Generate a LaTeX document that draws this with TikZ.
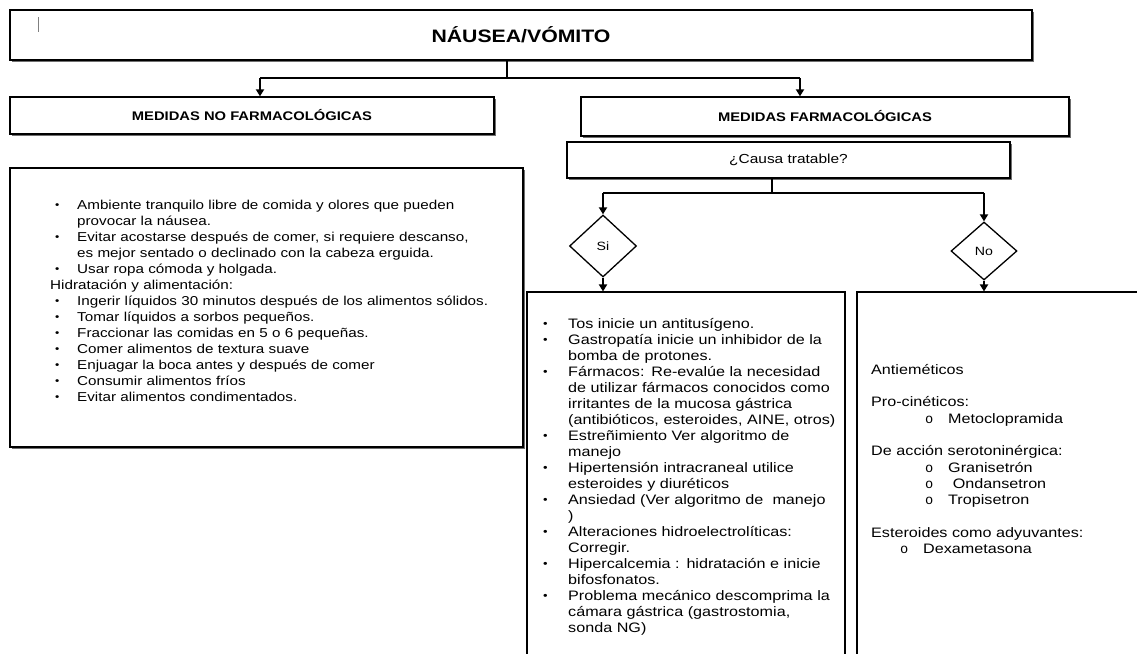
\documentclass[tikz,border=0pt]{standalone}
\usepackage{fontspec}
\setmainfont{Liberation Sans}[FakeStretch=1.18]
\newfontfamily\cour{Liberation Mono}
\usetikzlibrary{arrows.meta,shapes.geometric,shadows}
\newlength\bulw
\newcommand\bul[1]{\par\noindent\hangindent=\bulw\hangafter=1\hbox to \bulw{\hspace{5pt}\raisebox{0.5pt}{\scalebox{0.8}{\textbullet}}\hfil}#1}
\newcommand\subit[2]{\hspace*{#1}\makebox[23pt][l]{\cour o}#2}
\begin{document}
\begin{tikzpicture}[x=1pt,y=-1pt,
  box/.style={draw, line width=1.3pt, fill=white, inner sep=0pt, rectangle},
  shbox/.style={box, drop shadow={shadow xshift=1.5pt, shadow yshift=-1.5pt, fill=black!70, opacity=0.8}},
  conn/.style={line width=2.6pt},
  arr/.style={conn, -{Triangle[width=8pt,length=7pt]}},
  dia/.style={draw, line width=1.3pt, fill=white, diamond, inner sep=0pt, font=\fontsize{12}{14}\selectfont},
  body/.style={inner sep=0pt, anchor=north west, font=\fontsize{13.7}{16}\selectfont},
  head/.style={font=\fontsize{12.5}{15}\selectfont\bfseries}]
\useasboundingbox (0,0) rectangle (1137,653);
\clip (0,0) rectangle (1137,653);
\fill[white] (0,0) rectangle (1137,653);

% top
\node[shbox, minimum width=1022, minimum height=50, font=\fontsize{18}{20}\selectfont\bfseries] (top) at (521,35) {NÁUSEA/VÓMITO};
\draw[gray, line width=0.6pt] (38,17) -- (38,32);

\node[shbox, head, minimum width=484, minimum height=37] (nofarm) at (252,115.5) {MEDIDAS NO FARMACOLÓGICAS};
\node[shbox, head, minimum width=488, minimum height=39] (farm) at (825,116.5) {MEDIDAS FARMACOLÓGICAS};
\node[shbox, minimum width=443, minimum height=36, font=\fontsize{13.1}{15}\selectfont] (causa) at (788.5,160) {¿Causa tratable?};

\node[shbox, minimum width=513, minimum height=279] (leftbox) at (266.5,307.5) {};

\node[dia, minimum width=67, minimum height=62] (si) at (603,246) {Si};
\node[dia, minimum width=66, minimum height=58] (no) at (984,251) {No};

\node[box, line width=1.1pt, minimum width=318, minimum height=408] (sibox) at (686,496) {};
\node[box, line width=1.1pt, minimum width=303, minimum height=408] (nobox) at (1008.5,496) {};

% connectors
\coordinate (f1) at (507,78);
\coordinate (f1l) at (260,78);
\coordinate (f1r) at (800,78);
\draw[conn] (top.south -| f1) -- (f1);
\draw[conn] (f1l) -- (f1r);
\draw[arr] (f1l) -- (f1l |- nofarm.north);
\draw[arr] (f1r) -- (f1r |- farm.north);

\coordinate (f2) at (772,193);
\coordinate (f2l) at (603,193);
\coordinate (f2r) at (984,193);
\draw[conn] (causa.south -| f2) -- (f2);
\draw[conn] (f2l) -- (f2r);
\draw[arr] (f2l) -- (si.north);
\draw[arr] (f2r) -- (no.north);
\draw[arr] (si.south) -- (si.south |- sibox.north);
\draw[arr] (no.south) -- (no.south |- nobox.north);

% texts
\node[body, text width=480, font=\fontsize{12.9}{16}\selectfont] (lefttxt) at (50,193) {\setlength\bulw{27pt}\hyphenpenalty=10000\raggedright
\bul{Ambiente tranquilo libre de comida y olores que pueden\newline provocar la náusea.}
\bul{Evitar acostarse después de comer, si requiere descanso,\newline es mejor sentado o declinado con la cabeza erguida.}
\bul{Usar ropa cómoda y holgada.}
\par\noindent Hidratación y alimentación:
\bul{Ingerir líquidos 30 minutos después de los alimentos sólidos.}
\bul{Tomar líquidos a sorbos pequeños.}
\bul{Fraccionar las comidas en 5 o 6 pequeñas.}
\bul{Comer alimentos de textura suave}
\bul{Enjuagar la boca antes y después de comer}
\bul{Consumir alimentos fríos}
\bul{Evitar alimentos condimentados.}\par};

\node[body, text width=330] (sitxt) at (538,312) {\setlength\bulw{30pt}\hyphenpenalty=10000\raggedright
\bul{Tos inicie un antitusígeno.}
\bul{Gastropatía inicie un inhibidor de la\newline bomba de protones.}
\bul{Fármacos: Re-evalúe la necesidad\newline de utilizar fármacos conocidos como\newline irritantes de la mucosa gástrica\newline (antibióticos, esteroides, AINE, otros)}
\bul{Estreñimiento Ver algoritmo de\newline manejo}
\bul{Hipertensión intracraneal utilice\newline esteroides y diuréticos}
\bul{Ansiedad (Ver algoritmo de\ \ manejo\newline )}
\bul{Alteraciones hidroelectrolíticas:\newline Corregir.}
\bul{Hipercalcemia : hidratación e inicie\newline bifosfonatos.}
\bul{Problema mecánico descomprima la\newline cámara gástrica (gastrostomia,\newline sonda NG)}\par};

\node[body, text width=260, font=\fontsize{13.7}{16.3}\selectfont] (notxt) at (871,364) {\raggedright
Antieméticos\newline\mbox{}\newline
Pro-cinéticos:\newline
\subit{54pt}{Metoclopramida}\newline\mbox{}\newline
De acción serotoninérgica:\newline
\subit{54pt}{Granisetrón}\newline
\subit{54pt}{\ Ondansetron}\newline
\subit{54pt}{Tropisetron}\newline\mbox{}\newline
Esteroides como adyuvantes:\newline
\subit{29pt}{Dexametasona}\par};
\end{tikzpicture}
\end{document}
